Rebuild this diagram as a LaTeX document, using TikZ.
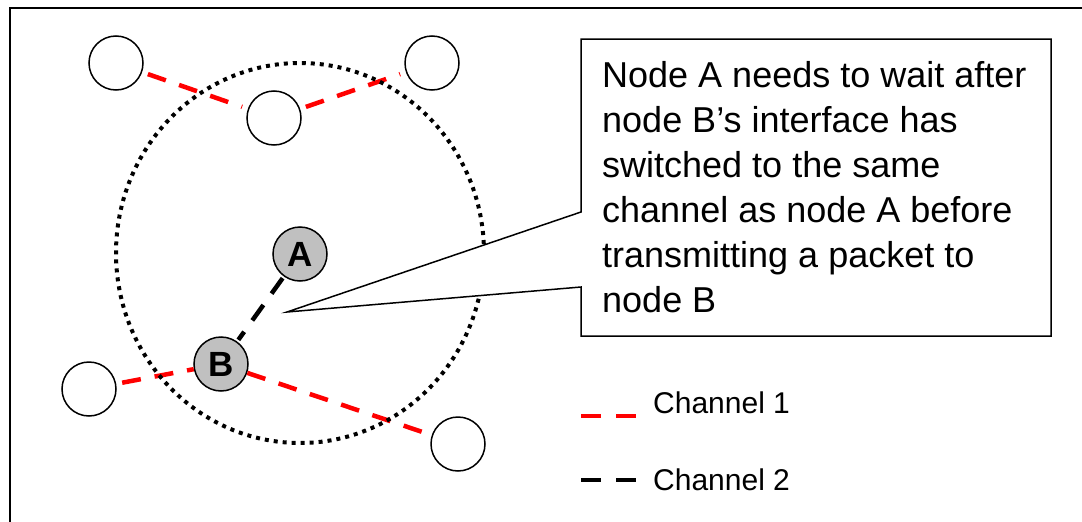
\documentclass[tikz,border=0pt]{standalone}
\usepackage{fontspec}
\setmainfont{Liberation Sans}
\definecolor{silverg}{HTML}{C0C0C0}
\begin{document}
\begin{tikzpicture}[x=1pt,y=-1pt,
  peer/.style={circle,draw,line width=1.5pt,fill=white,minimum size=54pt,inner sep=0pt},
  keypeer/.style={peer,fill=silverg,font=\bfseries\fontsize{35}{38}\selectfont},
  chone/.style={red,line width=4.5pt,dash pattern=on 19pt off 14pt},
  chtwo/.style={black,line width=4.5pt,dash pattern=on 19pt off 14pt},
  rangeline/.style={line width=4pt,dash pattern=on 4pt off 5pt},
  calloutline/.style={draw,fill=white,line width=1.5pt,line join=miter},
  legendtext/.style={anchor=base west,inner sep=0pt,font=\fontsize{30}{36}\selectfont},
  ]
\useasboundingbox (0,0) rectangle (1082,522);
% frame (cropped)
\draw[line width=2pt] (10,530) -- (10,8) -- (1090,8);

% nodes
\node[peer] (tl) at (116,63) {};
\node[peer] (tm) at (274,118) {};
\node[peer] (tr) at (432,63) {};
\node[peer] (bl) at (89,389) {};
\node[peer] (br) at (458,444) {};
\node[keypeer] (A) at (300,254) {A};
\node[keypeer] (B) at (221,364) {B};

% channel links
\draw[chone,shorten <=6pt,shorten >=6pt] (tl) -- (tm);
\draw[chone,shorten <=6pt,shorten >=6pt] (tm) -- (tr);
\draw[chone,shorten <=6pt] (bl) -- (B);
\draw[chone,shorten >=4pt] (B) -- (br);
\draw[chtwo,shorten <=2pt,shorten >=2pt] (A) -- (B);

% range
\draw[rangeline] (300,253) ellipse [x radius=184pt, y radius=190pt];

% callout
\coordinate (cnw) at (581,39);
\coordinate (cne) at (1051,39);
\coordinate (cse) at (1051,336);
\coordinate (csw) at (581,336);
\coordinate (cpl) at (581,287);
\coordinate (cpu) at (581,212);
\coordinate (tip) at (287,312);
\path[calloutline] (cnw) -- (cne) -- (cse) -- (csw) -- (cpl) -- (tip) -- (cpu) -- cycle;
\node[anchor=north west,inner sep=0pt,align=left,font=\fontsize{36}{45}\selectfont] (note) at (602,61)
  {Node A needs to wait after\\node B’s interface has\\switched to the same\\channel as node A before\\transmitting a packet to\\node B};

% legend
\coordinate (l1a) at (581,416);
\coordinate (l1b) at (636,416);
\coordinate (l2a) at (581,480);
\coordinate (l2b) at (636,480);
\draw[chone,dash pattern=on 20pt off 15pt] (l1a) -- (l1b);
\draw[chtwo,dash pattern=on 20pt off 15pt] (l2a) -- (l2b);
\node[legendtext] (lg1) at (653,413) {Channel 1};
\node[legendtext] (lg2) at (653,490) {Channel 2};
\end{tikzpicture}
\end{document}
